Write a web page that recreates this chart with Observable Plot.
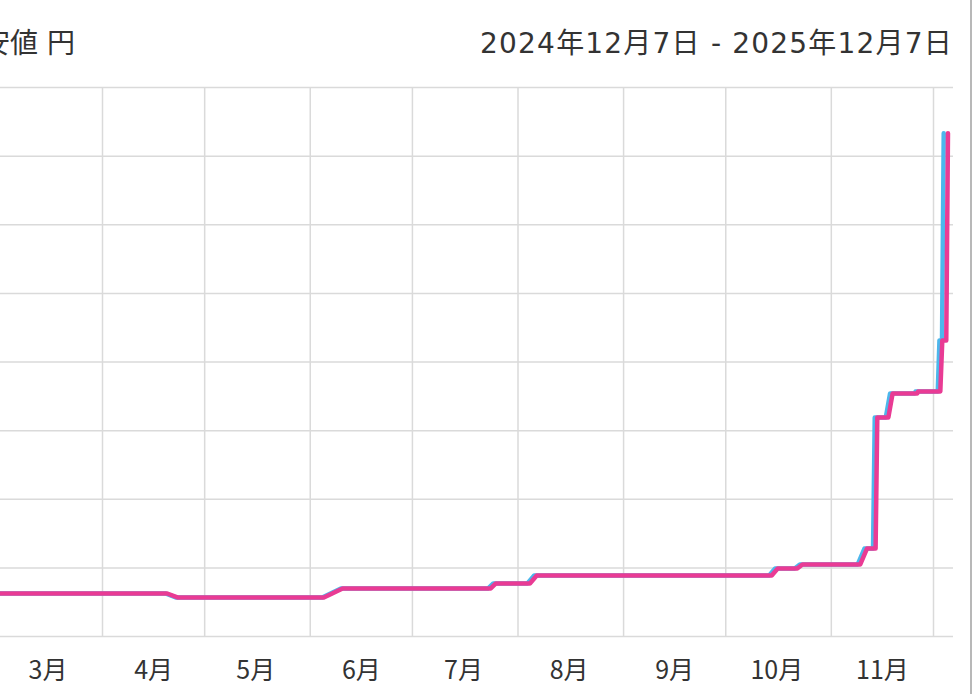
<!DOCTYPE html>
<html>
<head>
<meta charset="utf-8">
<script src="https://cdn.jsdelivr.net/npm/d3@7"></script>
<script src="https://cdn.jsdelivr.net/npm/@observablehq/plot@0.6"></script>
<style>
  html, body { margin: 0; padding: 0; background: #fff; }
  #wrap { position: relative; width: 980px; height: 694px; overflow: hidden; font-family: "Noto Sans CJK JP", "Noto Sans", sans-serif; color: #333; }
  #title { position: absolute; left: -46px; top: 24px; font-family: "DejaVu Sans", "Noto Sans CJK JP", sans-serif; font-size: 28px; line-height: 40px; white-space: nowrap; }
  #range { position: absolute; right: 27px; top: 24px; font-family: "DejaVu Sans", "Noto Sans CJK JP", sans-serif; font-size: 28px; line-height: 40px; letter-spacing: 1.2px; white-space: nowrap; }
  #border { position: absolute; left: 970px; top: 0; width: 2px; height: 694px; background: #b8b8b8; }
  #chart { position: absolute; left: 0; top: 80px; }
</style>
</head>
<body>
<div id="wrap">
  <div id="title">最安値 円</div>
  <div id="range">2024年12月7日 - 2025年12月7日</div>
  <div id="chart"></div>
  <div id="border"></div>
</div>
<script>
// Series A (blue, drawn underneath)
const blueDates = ["2025-02-20T00:00Z","2025-04-19T12:00Z","2025-04-22T12:00Z","2025-06-04T12:00Z","2025-06-10T00:00Z","2025-07-23T06:00Z","2025-07-24T18:00Z","2025-08-03T18:00Z","2025-08-05T18:00Z","2025-10-13T18:00Z","2025-10-15T12:00Z","2025-10-21T06:00Z","2025-10-22T18:00Z","2025-11-08T18:00Z","2025-11-10T18:00Z","2025-11-13T06:00Z","2025-11-13T18:00Z","2025-11-17T00:00Z","2025-11-18T06:00Z","2025-11-25T12:00Z","2025-11-25T18:00Z","2025-12-02T06:00Z","2025-12-02T18:00Z","2025-12-03T12:00Z","2025-12-04T00:00Z"];
const blueValues = [627,627,569,569,700,700,773,773,889,889,991,991,1050,1050,1283,1283,3192,3192,3542,3542,3571,3571,4315,4315,7332];
// Series B (pink, drawn on top)
const pinkDates = ["2025-02-20T00:00Z","2025-04-20T00:00Z","2025-04-23T00:00Z","2025-06-05T00:00Z","2025-06-10T12:00Z","2025-07-24T00:00Z","2025-07-25T12:00Z","2025-08-04T12:00Z","2025-08-06T12:00Z","2025-10-14T12:00Z","2025-10-16T06:00Z","2025-10-22T00:00Z","2025-10-23T12:00Z","2025-11-09T12:00Z","2025-11-11T12:00Z","2025-11-14T00:00Z","2025-11-14T12:00Z","2025-11-17T18:00Z","2025-11-19T00:00Z","2025-11-26T06:00Z","2025-11-26T12:00Z","2025-12-03T00:00Z","2025-12-03T14:00Z","2025-12-04T18:00Z","2025-12-05T06:00Z"];
const pinkValues = [627,627,569,569,700,700,773,773,889,889,991,991,1050,1050,1283,1283,3192,3192,3542,3542,3571,3571,4315,4315,7332];
// Month boundaries (grid) and month labels (placed mid-month)
const monthStarts = ["2025-03-01","2025-04-01","2025-05-01","2025-06-01","2025-07-01","2025-08-01","2025-09-01","2025-10-01","2025-11-01","2025-12-01"];
const monthLabelDates = ["2025-03-16","2025-04-16","2025-05-16","2025-06-16","2025-07-16","2025-08-16","2025-09-16","2025-10-16","2025-11-16"];
const monthLabels = ["3月","4月","5月","6月","7月","8月","9月","10月","11月"];
const yTicks = [0,1000,2000,3000,4000,5000,6000,7000,8000];

const toDate = s => new Date(s.length === 10 ? s + "T00:00Z" : s);
const blue = blueDates.map((d, i) => ({date: toDate(d), value: blueValues[i]}));
const pink = pinkDates.map((d, i) => ({date: toDate(d), value: pinkValues[i]}));
const grid = monthStarts.map(toDate);
const labels = monthLabelDates.map((d, i) => ({date: toDate(d), label: monthLabels[i]}));

const chart = Plot.plot({
  width: 980,
  height: 614,
  marginTop: 7,
  marginBottom: 58,
  marginLeft: 0,
  marginRight: 27,
  style: {fontFamily: "'Noto Sans CJK JP', sans-serif", color: "#333", background: "transparent"},
  x: {type: "utc", domain: [toDate("2025-04-01"), toDate("2025-12-01")], range: [102, 933], axis: null},
  y: {domain: [0, 8000], axis: null},
  marks: [
    Plot.gridY(yTicks, {stroke: "#dadada", strokeOpacity: 1, strokeWidth: 1.5}),
    Plot.ruleX(grid, {x: d => d, stroke: "#dadada", strokeWidth: 1.5, clip: "frame"}),
    Plot.line(blue, {x: "date", y: "value", stroke: "#4cb7ec", strokeWidth: 4.5, strokeLinejoin: "round", clip: "frame"}),
    Plot.line(pink, {x: "date", y: "value", stroke: "#e93b94", strokeWidth: 4.5, strokeLinejoin: "round", clip: "frame"}),
    Plot.text(labels, {x: "date", text: "label", frameAnchor: "bottom", dy: 34, lineAnchor: "middle", fontSize: 25, fill: "#333"})
  ]
});
document.getElementById("chart").appendChild(chart);
</script>
</body>
</html>
